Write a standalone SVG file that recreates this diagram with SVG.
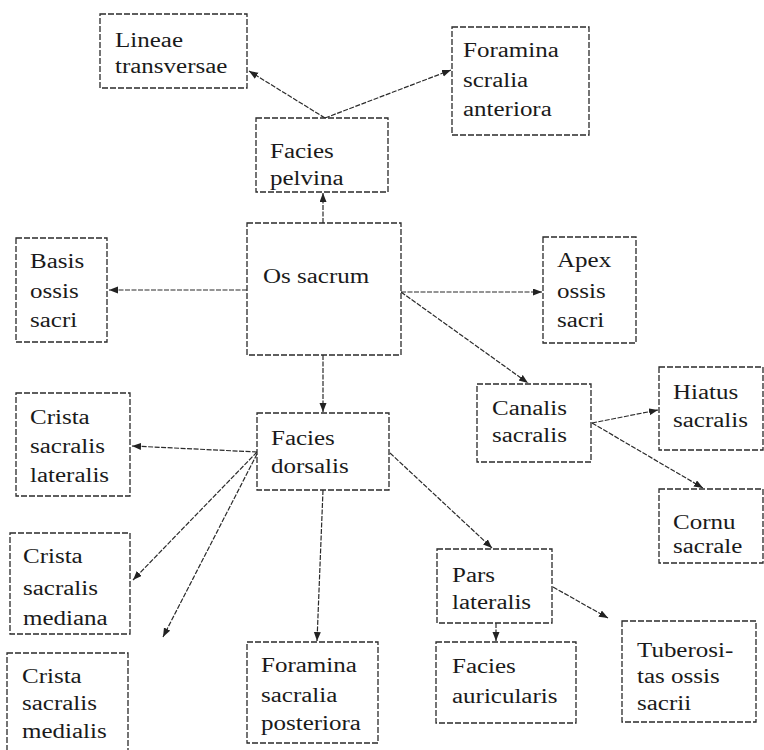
<svg xmlns="http://www.w3.org/2000/svg" width="764" height="750" viewBox="0 0 764 750">
<defs>
<style>
.box{fill:#fff;stroke:#2a2a2a;stroke-width:1.3;stroke-dasharray:6 2}
.t{font-family:"Liberation Serif","Times New Roman",serif;font-size:20px;fill:#1a1a1a}
.c{fill:none;stroke:#2a2a2a;stroke-width:1.2;stroke-dasharray:5 1.5}
.ah{fill:#222;stroke:none}
</style>
<marker id="arr" markerUnits="userSpaceOnUse" markerWidth="10" markerHeight="8" refX="9" refY="3.5" orient="auto">
<path class="ah" d="M0,0 L9,3.5 L0,7 z"/>
</marker>
</defs>
<rect width="764" height="750" fill="#fff"/>

<g id="connectors">
<path class="c" d="M323,223 L323,193" marker-end="url(#arr)"/>
<path class="c" d="M325,118 L249,71" marker-end="url(#arr)"/>
<path class="c" d="M325,118 L451,70" marker-end="url(#arr)"/>
<path class="c" d="M247,290 L109,290" marker-end="url(#arr)"/>
<path class="c" d="M401,292 L542,292" marker-end="url(#arr)"/>
<path class="c" d="M401,292 L528,383" marker-end="url(#arr)"/>
<path class="c" d="M323,355 L323,412" marker-end="url(#arr)"/>
<path class="c" d="M257,452 L132,446" marker-end="url(#arr)"/>
<path class="c" d="M257,452 L133,580" marker-end="url(#arr)"/>
<path class="c" d="M257,454 L163,637" marker-end="url(#arr)"/>
<path class="c" d="M323,490 L317,641" marker-end="url(#arr)"/>
<path class="c" d="M390,453 L492,548" marker-end="url(#arr)"/>
<path class="c" d="M592,423 L658,410" marker-end="url(#arr)"/>
<path class="c" d="M592,423 L703,488" marker-end="url(#arr)"/>
<path class="c" d="M496,623 L496,641" marker-end="url(#arr)"/>
<path class="c" d="M553,587 L608,618" marker-end="url(#arr)"/>
</g>

<g id="lineae">
<rect class="box" x="100" y="14" width="147" height="74"/>
<g transform="translate(115 0) scale(1.25 1)"><text class="t" y="47">Lineae</text><text class="t" y="73">transversae</text></g>
</g>
<g id="foramina-anteriora">
<rect class="box" x="452" y="27" width="137" height="108"/>
<g transform="translate(463 0) scale(1.25 1)"><text class="t" y="57">Foramina</text><text class="t" y="87">scralia</text><text class="t" y="116">anteriora</text></g>
</g>
<g id="facies-pelvina">
<rect class="box" x="256" y="118" width="132" height="74"/>
<g transform="translate(270 0) scale(1.25 1)"><text class="t" y="158">Facies</text><text class="t" y="185">pelvina</text></g>
</g>
<g id="os-sacrum">
<rect class="box" x="247" y="223" width="154" height="132"/>
<g transform="translate(263 0) scale(1.25 1)"><text class="t" y="283">Os sacrum</text></g>
</g>
<g id="basis">
<rect class="box" x="16" y="238" width="91" height="104"/>
<g transform="translate(30 0) scale(1.25 1)"><text class="t" y="268">Basis</text><text class="t" y="298">ossis</text><text class="t" y="327">sacri</text></g>
</g>
<g id="apex">
<rect class="box" x="543" y="237" width="93" height="106"/>
<g transform="translate(557 0) scale(1.25 1)"><text class="t" y="267">Apex</text><text class="t" y="298">ossis</text><text class="t" y="327">sacri</text></g>
</g>
<g id="facies-dorsalis">
<rect class="box" x="257" y="413" width="132" height="77"/>
<g transform="translate(271 0) scale(1.25 1)"><text class="t" y="445">Facies</text><text class="t" y="473">dorsalis</text></g>
</g>
<g id="crista-lateralis">
<rect class="box" x="16" y="393" width="114" height="103"/>
<g transform="translate(30 0) scale(1.25 1)"><text class="t" y="424">Crista</text><text class="t" y="453">sacralis</text><text class="t" y="482">lateralis</text></g>
</g>
<g id="canalis">
<rect class="box" x="477" y="384" width="114" height="78"/>
<g transform="translate(492 0) scale(1.25 1)"><text class="t" y="415">Canalis</text><text class="t" y="442">sacralis</text></g>
</g>
<g id="hiatus">
<rect class="box" x="659" y="367" width="104" height="83"/>
<g transform="translate(673 0) scale(1.25 1)"><text class="t" y="399">Hiatus</text><text class="t" y="427">sacralis</text></g>
</g>
<g id="cornu">
<rect class="box" x="659" y="489" width="104" height="74"/>
<g transform="translate(673 0) scale(1.25 1)"><text class="t" y="529">Cornu</text><text class="t" y="553">sacrale</text></g>
</g>
<g id="crista-mediana">
<rect class="box" x="10" y="533" width="120" height="101"/>
<g transform="translate(23 0) scale(1.25 1)"><text class="t" y="563">Crista</text><text class="t" y="595">sacralis</text><text class="t" y="625">mediana</text></g>
</g>
<g id="crista-medialis">
<rect class="box" x="7" y="653" width="121" height="100"/>
<g transform="translate(22 0) scale(1.25 1)"><text class="t" y="683">Crista</text><text class="t" y="710">sacralis</text><text class="t" y="738">medialis</text></g>
</g>
<g id="foramina-posteriora">
<rect class="box" x="247" y="642" width="131" height="101"/>
<g transform="translate(261 0) scale(1.25 1)"><text class="t" y="672">Foramina</text><text class="t" y="702">sacralia</text><text class="t" y="730">posteriora</text></g>
</g>
<g id="pars-lateralis">
<rect class="box" x="437" y="549" width="115" height="74"/>
<g transform="translate(452 0) scale(1.25 1)"><text class="t" y="582">Pars</text><text class="t" y="609">lateralis</text></g>
</g>
<g id="facies-auricularis">
<rect class="box" x="436" y="642" width="140" height="81"/>
<g transform="translate(452 0) scale(1.25 1)"><text class="t" y="673">Facies</text><text class="t" y="703">auricularis</text></g>
</g>
<g id="tuberositas">
<rect class="box" x="622" y="621" width="134" height="101"/>
<g transform="translate(637 0) scale(1.25 1)"><text class="t" y="657">Tuberosi-</text><text class="t" y="683">tas ossis</text><text class="t" y="710">sacrii</text></g>
</g>
</svg>
